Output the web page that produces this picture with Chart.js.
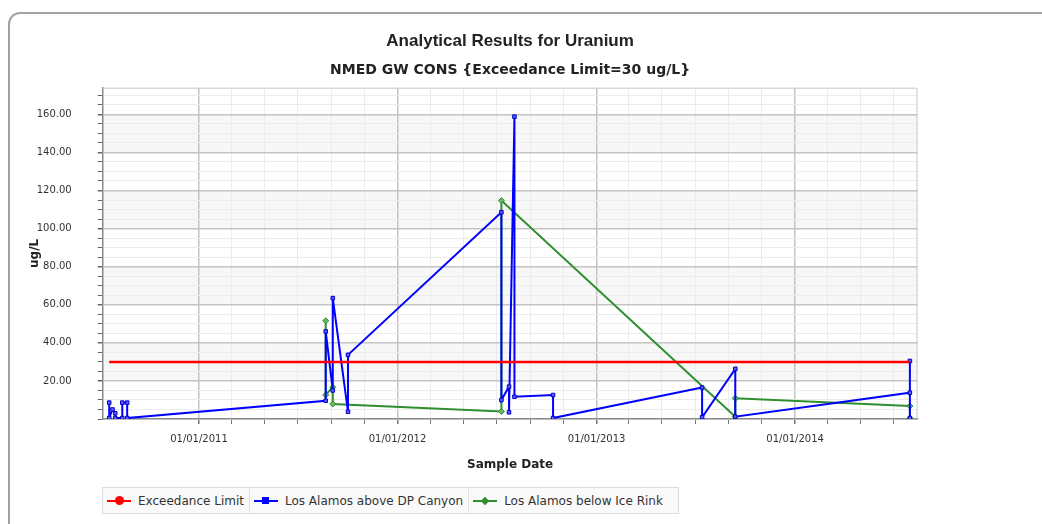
<!DOCTYPE html>
<html><head><meta charset="utf-8">
<script src="https://cdn.jsdelivr.net/npm/chart.js@4/dist/chart.umd.min.js"></script>
<style>
html,body{margin:0;padding:0;background:#fff;overflow:hidden;width:1042px;height:524px;}
#frame{position:absolute;left:8px;top:12px;width:1100px;height:600px;border:2px solid #a3a3a3;border-radius:12px;box-sizing:border-box;}
#wrap{position:absolute;left:0;top:0;width:1042px;height:524px;}
#legend{position:absolute;left:102px;top:487px;height:27px;width:577px;border:1px solid #dcdcdc;box-sizing:border-box;background:#fafafa;display:flex;align-items:center;font:12px "DejaVu Sans",sans-serif;color:#333;}
.item{display:flex;align-items:center;height:100%;padding:0 5px 0 4px;}
.item+.item{border-left:1px solid #e2e2e2;}
.sym{position:relative;width:24px;height:10px;margin-right:7px;}
.sym .ln{position:absolute;left:0;right:0;top:4px;height:2px;}
.sym .mk{position:absolute;left:50%;top:50%;}
</style>
</head><body>
<div id="frame"></div>
<div id="wrap"><canvas id="c" width="1042" height="524"></canvas></div>
<div id="legend"></div>
<script>
// ---------- data ----------
const seriesNames = ['Exceedance Limit', 'Los Alamos above DP Canyon', 'Los Alamos below Ice Rink'];

const limitDates  = ['2010-07-20', '2014-07-31'];
const limitValues = [30, 30];

const blueDates = [
  '2010-07-20','2010-07-20','2010-07-26','2010-07-31','2010-07-31','2010-08-13','2010-08-13','2010-08-22','2010-08-22',
  '2011-08-22','2011-08-22','2011-09-04','2011-09-04','2011-10-02','2011-10-02',
  '2012-07-10','2012-07-10','2012-07-24','2012-07-24','2012-08-03','2012-08-03','2012-10-13','2012-10-13',
  '2013-07-14','2013-07-14','2013-09-13','2013-09-13',
  '2014-07-31','2014-07-31','2014-07-31'
];
const blueValues = [
  8.6, 0.5, 5.0, 3.0, 0.5, 0.5, 8.6, 8.6, 0.5,
  9.6, 46.0, 15.0, 63.5, 3.8, 33.7,
  108.6, 10.0, 17.0, 3.5, 158.8, 11.7, 12.6, 0.5,
  16.5, 0.9, 26.3, 1.2,
  13.8, 30.5, 0.5
];

const greenDates = [
  '2011-08-22','2011-08-22','2011-09-04','2011-09-04',
  '2012-07-10','2012-07-10',
  '2013-09-13','2013-09-13',
  '2014-07-31','2014-07-31'
];
const greenValues = [51.6, 12.6, 16.7, 7.9, 3.9, 114.7, 1.2, 10.9, 6.8, 0.4];

const xMin = '2010-07-08', xMax = '2014-08-14';
const xGridDates = [
  '2011-01-01','2011-03-01','2011-05-01','2011-07-01','2011-09-01','2011-11-01',
  '2012-01-01','2012-03-01','2012-05-01','2012-07-01','2012-09-01','2012-11-01',
  '2013-01-01','2013-03-01','2013-05-01','2013-07-01','2013-09-01','2013-11-01',
  '2014-01-01','2014-03-01','2014-05-01','2014-07-01'
];
const yMin = 0, yMax = 174;
const yGridValues = [0,5,10,15,20,25,30,35,40,45,50,55,60,65,70,75,80,85,90,95,100,105,110,115,120,125,130,135,140,145,150,155,160,165,170];
const yLabelValues = [20,40,60,80,100,120,140,160];
const bandRanges = [[20,40],[60,80],[100,120],[140,160]];

// ---------- helpers ----------
const toMs = s => Date.parse(s + 'T00:00:00Z');
const pts = (ds, vs) => ds.map((d, i) => ({x: toMs(d), y: vs[i]}));
const isJan1 = v => { const d = new Date(v); return d.getUTCMonth() === 0 && d.getUTCDate() === 1; };
const fmt = v => { const d = new Date(v); const p = n => String(n).padStart(2, '0');
  return p(d.getUTCMonth()+1) + '/' + p(d.getUTCDate()) + '/' + d.getUTCFullYear(); };

const colors = ['#ff0000', '#0000ff', '#2f8f2f'];

const bgPlugin = {
  id: 'bg',
  beforeDraw(chart) {
    const {ctx, chartArea: a, scales: {y}} = chart;
    ctx.save();
    ctx.fillStyle = '#ffffff';
    ctx.fillRect(a.left, a.top, a.right - a.left, a.bottom - a.top);
    ctx.fillStyle = '#f7f7f7';
    bandRanges.forEach(([lo, hi]) => {
      const t = y.getPixelForValue(hi), b = y.getPixelForValue(lo);
      ctx.fillRect(a.left, t, a.right - a.left, b - t);
    });
    ctx.restore();
  },
  beforeDatasetsDraw(chart) {
    const {ctx, chartArea: a} = chart;
    ctx.save();
    ctx.strokeStyle = '#c8c8c8';
    ctx.lineWidth = 1;
    ctx.beginPath();
    ctx.moveTo(a.left, a.top + 0.5); ctx.lineTo(a.right - 0.5, a.top + 0.5); ctx.lineTo(a.right - 0.5, a.bottom);
    ctx.stroke();
    ctx.restore();
  }
};

new Chart(document.getElementById('c'), {
  type: 'line',
  data: {
    datasets: [
      { label: seriesNames[0], data: pts(limitDates, limitValues), borderColor: colors[0], borderWidth: 2.5,
        pointRadius: 0, tension: 0 },
      { label: seriesNames[1], data: pts(blueDates, blueValues), borderColor: colors[1], borderWidth: 2,
        pointStyle: 'rect', pointRadius: 2.5, pointBackgroundColor: '#5b5bff', pointBorderColor: '#0000c8',
        pointBorderWidth: 1, tension: 0 },
      { label: seriesNames[2], data: pts(greenDates, greenValues), borderColor: colors[2], borderWidth: 2,
        pointStyle: 'rectRot', pointRadius: 3, pointBackgroundColor: '#66bb66', pointBorderColor: '#2a8a2a',
        pointBorderWidth: 1, tension: 0 }
    ]
  },
  options: {
    responsive: false,
    animation: false,
    layout: { padding: { left: 10, right: 124.5, top: 0, bottom: 52 } },
    plugins: {
      legend: { display: false },
      tooltip: { enabled: false },
      title: { display: true, text: 'Analytical Results for Uranium', fullSize: false, color: '#222',
        font: { family: 'Liberation Sans', size: 17, weight: 'bold' }, padding: { top: 31, bottom: 5 } },
      subtitle: { display: true, text: 'NMED GW CONS {Exceedance Limit=30 ug/L}', fullSize: false, color: '#222',
        font: { family: 'DejaVu Sans', size: 14, weight: 'bold' }, padding: { top: 6, bottom: 8.5 } }
    },
    scales: {
      x: {
        type: 'linear', min: toMs(xMin), max: toMs(xMax),
        afterBuildTicks: s => { s.ticks = xGridDates.map(d => ({ value: toMs(d) })); },
        afterFit: s => { s.height = 53; },
        ticks: { autoSkip: false, maxRotation: 0, padding: 9, color: '#333',
          font: { family: 'DejaVu Sans', size: 10 }, callback: v => isJan1(v) ? fmt(v) : '' },
        grid: { color: c => (c.tick && isJan1(c.tick.value)) ? '#c4c4c4' : '#ececec',
          lineWidth: c => (c.tick && isJan1(c.tick.value)) ? 1.5 : 1,
          tickColor: '#777', tickLength: 5 },
        border: { display: true, color: '#8a8a8a', width: 1.5 },
        title: { display: true, text: 'Sample Date', color: '#222', padding: { top: 0, bottom: 0 },
          font: { family: 'DejaVu Sans', size: 12, weight: 'bold' } }
      },
      y: {
        type: 'linear', min: yMin, max: yMax,
        afterBuildTicks: s => { s.ticks = yGridValues.map(v => ({ value: v })); },
        afterFit: s => { s.width = 92.7; },
        ticks: { autoSkip: false, padding: 26, color: '#333',
          font: { family: 'DejaVu Sans', size: 10 },
          callback: v => yLabelValues.includes(v) ? v.toFixed(2) : '' },
        grid: { color: c => (c.tick && yLabelValues.includes(c.tick.value)) ? '#c4c4c4' : '#ececec',
          lineWidth: c => (c.tick && yLabelValues.includes(c.tick.value)) ? 1.5 : 1,
          tickColor: '#666', tickLength: 5 },
        border: { display: true, color: '#8a8a8a', width: 1.5 },
        title: { display: true, text: 'ug/L', color: '#222', padding: { top: 18, bottom: 0 },
          font: { family: 'DejaVu Sans', size: 12, weight: 'bold' } }
      }
    }
  },
  plugins: [bgPlugin]
});

// ---------- HTML legend ----------
const markers = [
  'width:9px;height:9px;margin:-4.5px 0 0 -4.5px;border-radius:50%;background:#ff0000;',
  'width:7px;height:7px;margin:-3.5px 0 0 -3.5px;background:#0000ff;',
  'width:6px;height:6px;margin:-3px 0 0 -3px;background:#2f8f2f;transform:rotate(45deg);'
];
const lg = document.getElementById('legend');
seriesNames.forEach((n, i) => {
  const it = document.createElement('div'); it.className = 'item';
  it.innerHTML = '<span class="sym"><span class="ln" style="background:' + colors[i] + '"></span>' +
    '<span class="mk" style="' + markers[i] + '"></span></span><span>' + n + '</span>';
  lg.appendChild(it);
});
</script>
</body></html>
